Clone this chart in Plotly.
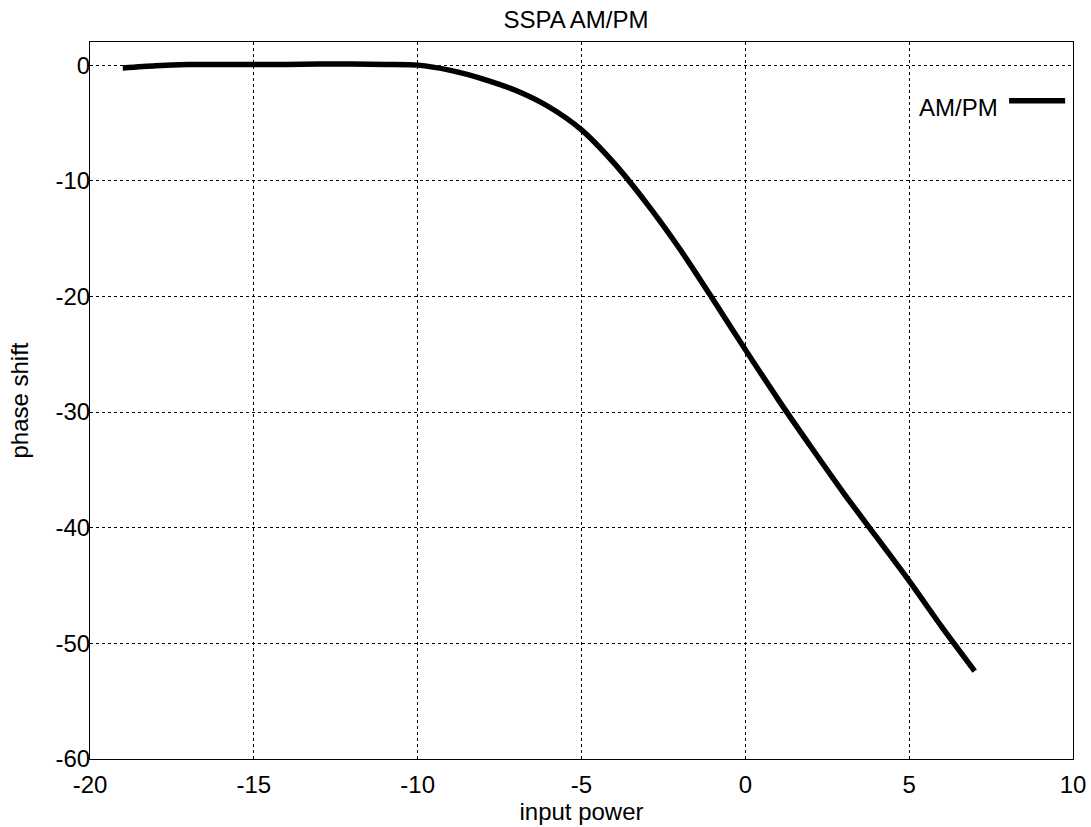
import plotly.graph_objects as go

# SSPA phase response: input power (dB) vs phase shift (deg)
input_power = [-19, -18, -17, -16, -15, -14, -13, -12, -11, -10, -9, -8, -7, -6,
               -5, -4, -3, -2, -1, 0, 1, 2, 3, 4, 5, 6, 7]
phase_shift = [-0.25, -0.05, 0.05, 0.05, 0.05, 0.05, 0.1, 0.1, 0.05, 0.0, -0.45, -1.2, -2.2, -3.6,
               -5.6, -8.5, -12.0, -15.9, -20.2, -24.6, -28.9, -33.0, -37.0, -40.8, -44.6, -48.6, -52.4]

x_ticks = [-20, -15, -10, -5, 0, 5, 10]
x_labels = ["-20", "-15", "-10", "-5", "0", "5", "10"]
y_ticks = [0, -10, -20, -30, -40, -50, -60]
y_labels = ["0", "-10", "-20", "-30", "-40", "-50", "-60"]

FONT = "Liberation Sans, Arial, sans-serif"
TXT = dict(family=FONT, size=24, color="black")

fig = go.Figure()
fig.add_trace(go.Scatter(
    x=input_power, y=phase_shift, mode="lines", name="AM/PM",
    line=dict(color="black", width=5.5, shape="spline", smoothing=0.8), showlegend=False,
))

axis_common = dict(
    showline=True, linecolor="black", linewidth=1, mirror=True,
    showgrid=True, gridcolor="black", gridwidth=1, griddash="dot",
    zeroline=False, ticks="", tickfont=TXT, automargin=False,
)

fig.update_xaxes(
    range=[-20, 10], tickvals=x_ticks, ticktext=x_labels, ticklabelstandoff=4,
    title=dict(text="input power", font=TXT, standoff=0),
    **axis_common,
)
fig.update_yaxes(
    range=[-60, 2], tickvals=y_ticks, ticktext=y_labels, ticklabelstandoff=-6,
    title=dict(text="phase shift", font=TXT, standoff=20),
    **axis_common,
)

# key: label on the left, line sample on the right
fig.add_annotation(
    xref="paper", yref="paper", x=0.926, y=0.909, xanchor="right", yanchor="middle",
    text="AM/PM", showarrow=False, font=TXT,
)
fig.add_shape(
    type="line", xref="paper", yref="paper", x0=0.935, x1=0.992, y0=0.918, y1=0.918,
    line=dict(color="black", width=5.5),
)

fig.update_layout(
    width=1091, height=827,
    margin=dict(l=90, r=18, t=42, b=68),
    paper_bgcolor="white", plot_bgcolor="white",
    title=dict(text="SSPA AM/PM", x=0.528, xanchor="center", y=0.976, yanchor="middle",
               font=TXT),
    font=dict(family=FONT, color="black"),
)

fig.write_html("out.html")
